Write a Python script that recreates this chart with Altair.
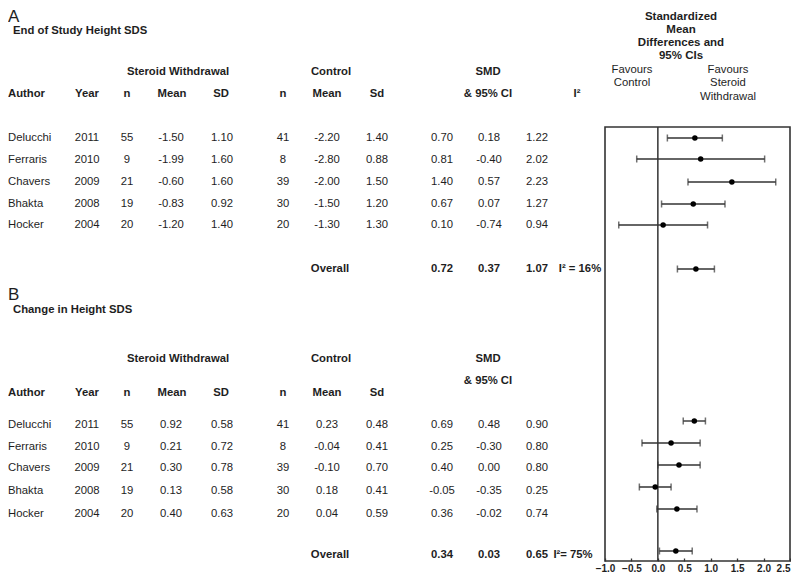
import altair as alt
import pandas as pd

FONT = "Liberation Sans"
INK = "#1e1e1e"
LINE = "#333333"

# ---------------- data ----------------
authors = ["Delucchi", "Ferraris", "Chavers", "Bhakta", "Hocker"]
years = [2011, 2010, 2009, 2008, 2004]
sw_n = [55, 9, 21, 19, 20]
ctl_n = [41, 8, 39, 30, 20]

# Panel A: End of Study Height SDS
a_sw_mean = [-1.50, -1.99, -0.60, -0.83, -1.20]
a_sw_sd = [1.10, 1.60, 1.60, 0.92, 1.40]
a_ctl_mean = [-2.20, -2.80, -2.00, -1.50, -1.30]
a_ctl_sd = [1.40, 0.88, 1.50, 1.20, 1.30]
a_smd = [0.70, 0.81, 1.40, 0.67, 0.10]
a_lo = [0.18, -0.40, 0.57, 0.07, -0.74]
a_hi = [1.22, 2.02, 2.23, 1.27, 0.94]
a_overall = [0.72, 0.37, 1.07]
a_i2 = "I² = 16%"

# Panel B: Change in Height SDS
b_sw_mean = [0.92, 0.21, 0.30, 0.13, 0.40]
b_sw_sd = [0.58, 0.72, 0.78, 0.58, 0.63]
b_ctl_mean = [0.23, -0.04, -0.10, 0.18, 0.04]
b_ctl_sd = [0.48, 0.41, 0.70, 0.41, 0.59]
b_smd = [0.69, 0.25, 0.40, -0.05, 0.36]
b_lo = [0.48, -0.30, 0.00, -0.35, -0.02]
b_hi = [0.90, 0.80, 0.80, 0.25, 0.74]
b_overall = [0.34, 0.03, 0.65]
b_i2 = "I²= 75%"

axis_ticks = [-1.0, -0.5, 0.0, 0.5, 1.0, 1.5, 2.0, 2.5]

# ---------------- layout (page pixel positions) ----------------
X0, Y0 = 8, 8
W, H = 782, 551
FOREST_RANGE = [597, 782]
COLS = dict(year=87, n1=127, m1=171, sd1=222, n2=283, m2=327, sd2=377,
            smd=442, lo=489, hi=537)
PANELS = [
    dict(letter="A", letter_y=15, title="End of Study Height SDS", title_y=29,
         grp_y=70, hdr_y=92, ci_y=92, rows=[136, 158, 180, 202, 223], overall_y=267,
         frows=[136, 157, 180, 202, 223], foverall=267, i2_x=580, i2_hdr=True,
         sw_mean=a_sw_mean, sw_sd=a_sw_sd, ctl_mean=a_ctl_mean, ctl_sd=a_ctl_sd,
         smd=a_smd, lo=a_lo, hi=a_hi, overall=a_overall, i2=a_i2),
    dict(letter="B", letter_y=293, title="Change in Height SDS", title_y=308,
         grp_y=357, hdr_y=391, ci_y=379, rows=[423, 445, 466, 489, 512], overall_y=553,
         frows=[419, 441, 463, 485, 507], foverall=549, i2_x=573, i2_hdr=False,
         sw_mean=b_sw_mean, sw_sd=b_sw_sd, ctl_mean=b_ctl_mean, ctl_sd=b_ctl_sd,
         smd=b_smd, lo=b_lo, hi=b_hi, overall=b_overall, i2=b_i2),
]
BOX_TOP, BOX_BOTTOM = 125, Y0 + H

texts = []


def add(x, y, t, s):
    texts.append(dict(x=x, y=y, t=t, s=s))


def f2(v):
    return f"{v:.2f}"


for p in PANELS:
    add(8, p["letter_y"], p["letter"], "big")
    add(13, p["title_y"], p["title"], "lb")
    add(178, p["grp_y"], "Steroid Withdrawal", "cb")
    add(331, p["grp_y"], "Control", "cb")
    add(488, p["grp_y"], "SMD", "cb")
    add(488, p["ci_y"], "& 95% CI", "cb")
    add(8, p["hdr_y"], "Author", "lb")
    for lab, cx in [("Year", 87), ("n", 127), ("Mean", 172), ("SD", 221),
                    ("n", 283), ("Mean", 327), ("Sd", 377)]:
        add(cx, p["hdr_y"], lab, "cb")
    if p["i2_hdr"]:
        add(577, p["hdr_y"], "I²", "cb")
    for i, y in enumerate(p["rows"]):
        add(8, y, authors[i], "l")
        add(COLS["year"], y, str(years[i]), "c")
        add(COLS["n1"], y, str(sw_n[i]), "c")
        add(COLS["m1"], y, f2(p["sw_mean"][i]), "c")
        add(COLS["sd1"], y, f2(p["sw_sd"][i]), "c")
        add(COLS["n2"], y, str(ctl_n[i]), "c")
        add(COLS["m2"], y, f2(p["ctl_mean"][i]), "c")
        add(COLS["sd2"], y, f2(p["ctl_sd"][i]), "c")
        add(COLS["smd"], y, f2(p["smd"][i]), "c")
        add(COLS["lo"], y, f2(p["lo"][i]), "c")
        add(COLS["hi"], y, f2(p["hi"][i]), "c")
    oy = p["overall_y"]
    add(330, oy, "Overall", "cb")
    add(COLS["smd"], oy, f2(p["overall"][0]), "cb")
    add(COLS["lo"], oy, f2(p["overall"][1]), "cb")
    add(COLS["hi"], oy, f2(p["overall"][2]), "cb")
    add(p["i2_x"], oy, p["i2"], "cb")

# forest panel header texts
for y, t in zip([15, 28, 41, 54], ["Standardized", "Mean", "Differences and", "95% CIs"]):
    add(681, y, t, "hb")
for y, t in zip([68, 81], ["Favours", "Control"]):
    add(632, y, t, "c")
for y, t in zip([68, 81, 95], ["Favours", "Steroid", "Withdrawal"]):
    add(728, y, t, "c")

tdf = pd.DataFrame(texts)

xpix = alt.Scale(domain=[X0, X0 + W], nice=False, zero=False)
ypix = alt.Scale(domain=[Y0, Y0 + H], reverse=True, nice=False, zero=False)


def text_layer(style, align, weight, size):
    return alt.Chart(tdf[tdf.s == style]).mark_text(
        align=align, baseline="middle", font=FONT, fontSize=size,
        fontWeight=weight, color=INK
    ).encode(
        x=alt.X("x:Q", scale=xpix, axis=None),
        y=alt.Y("y:Q", scale=ypix, axis=None),
        text="t:N",
    )


table = alt.layer(
    text_layer("c", "center", "normal", 11.3),
    text_layer("cb", "center", "bold", 11.3),
    text_layer("l", "left", "normal", 11.3),
    text_layer("lb", "left", "bold", 11.3),
    text_layer("hb", "center", "bold", 11.5),
    text_layer("big", "left", "normal", 17),
)

# ---------------- forest plot ----------------
frows = []
for p in PANELS:
    for i in range(5):
        frows.append(dict(smd=p["smd"][i], lo=p["lo"][i], hi=p["hi"][i], y=p["frows"][i]))
    frows.append(dict(smd=p["overall"][0], lo=p["overall"][1], hi=p["overall"][2], y=p["foverall"]))
fdf = pd.DataFrame(frows)
caps = pd.concat([fdf[["lo", "y"]].rename(columns={"lo": "v"}),
                  fdf[["hi", "y"]].rename(columns={"hi": "v"})])

xs = alt.Scale(domain=[axis_ticks[0], axis_ticks[-1]], range=FOREST_RANGE, nice=False, zero=False)

box = alt.Chart(pd.DataFrame([dict(x=axis_ticks[0], x2=axis_ticks[-1], y=BOX_TOP, y2=BOX_BOTTOM)])).mark_rect(
    fillOpacity=0, stroke=LINE, strokeWidth=1.6
).encode(
    x=alt.X("x:Q", scale=xs, axis=alt.Axis(
        values=axis_ticks, format=".1f", domain=False, grid=False, tickSize=3,
        offset=-3, tickColor=LINE, tickWidth=1.3, labelFont=FONT, labelFontSize=10,
        labelFontWeight="bold", labelColor=INK, labelPadding=2, labelOverlap=False,
        labelAlign={"condition": {"test": "datum.value >= 2.5", "value": "right"}, "value": "center"},
        title=None)),
    x2="x2:Q",
    y=alt.Y("y:Q", scale=ypix, axis=None),
    y2="y2:Q",
)

zero = alt.Chart(pd.DataFrame([dict(x=0.0, y=BOX_TOP, y2=BOX_BOTTOM)])).mark_rule(
    color=LINE, strokeWidth=1.5
).encode(x=alt.X("x:Q", scale=xs), y=alt.Y("y:Q", scale=ypix), y2="y2:Q")

whisk = alt.Chart(fdf).mark_rule(color=LINE, strokeWidth=1.4).encode(
    x=alt.X("lo:Q", scale=xs), x2="hi:Q", y=alt.Y("y:Q", scale=ypix)
)
capm = alt.Chart(caps).mark_tick(orient="vertical", color=LINE, thickness=1.5, size=7).encode(
    x=alt.X("v:Q", scale=xs), y=alt.Y("y:Q", scale=ypix)
)
dots = alt.Chart(fdf).mark_circle(size=30, color="#000000", opacity=1).encode(
    x=alt.X("smd:Q", scale=xs), y=alt.Y("y:Q", scale=ypix)
)

forest = alt.layer(box, zero, whisk, capm, dots)

chart = alt.layer(table, forest).resolve_scale(x="independent").properties(
    width=W, height=H, padding=0
).configure_view(stroke=None)

chart.save("out.html", embed_options={"renderer": "svg", "actions": False})
